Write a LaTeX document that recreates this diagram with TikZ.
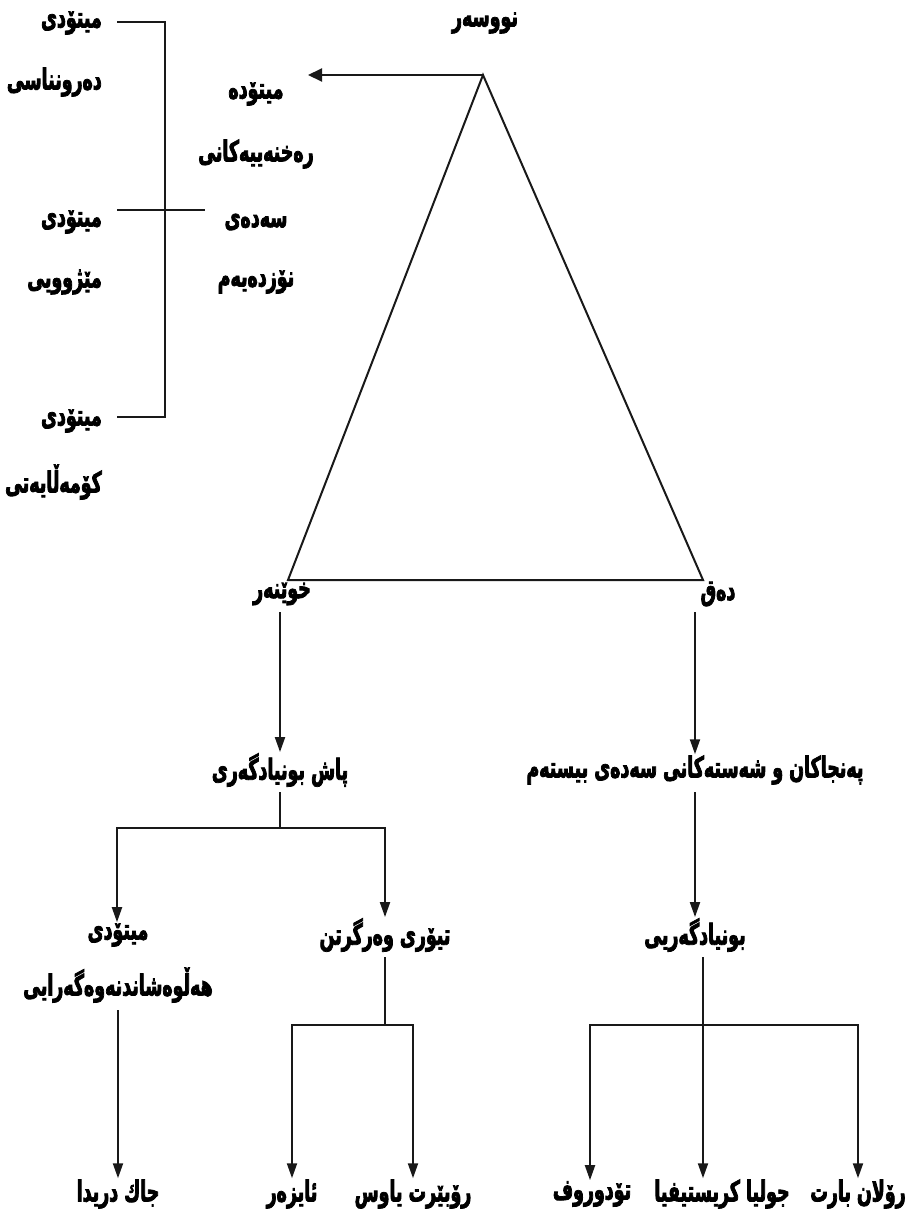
\documentclass[tikz,border=0pt]{standalone}
\usepackage{fontspec}
\usetikzlibrary{arrows.meta}
\TeXXeTstate=1
\newfontfamily\kurdfont[Script=Arabic, FakeStretch=0.6, FakeBold=2.6]{DejaVu Sans Bold}
\newcommand{\ku}[1]{\beginR #1\endR}
\begin{document}
\begin{tikzpicture}[x=1pt,y=-1pt,
  lbl/.style={font=\kurdfont\fontsize{29}{32}\selectfont, inner sep=1pt},
  conn/.style={line width=2pt, black!90},
  arr/.style={conn, -{Triangle[length=15pt,width=10pt]}},
  wide arr/.style={conn, -{Triangle[length=14pt,width=13pt]}}]
\useasboundingbox (0,0) rectangle (911,1221);

% apex label and the triangle
\node[lbl] (writer) at (485,23) {\ku{نووسەر}};
\coordinate (apex) at (483,75);
\coordinate (bl) at (288,580);
\coordinate (br) at (703,580);
\draw[conn, line join=miter] (apex) -- (bl) -- (br) -- cycle;

% nineteenth-century critical methods
\node[lbl] (m1) at (256,94)  {\ku{میتۆدە}};
\node[lbl] (m2) at (256,154) {\ku{رەخنەییەکانی}};
\node[lbl] (m3) at (256,222) {\ku{سەدەی}};
\node[lbl] (m4) at (256,282) {\ku{نۆزدەیەم}};
\coordinate (mtip) at (308,75);
\draw[wide arr] (apex) -- (mtip);

% the three methods on the left
\node[lbl, anchor=east] (l1) at (103,23)  {\ku{میتۆدی}};
\node[lbl, anchor=east] (l2) at (103,82)  {\ku{دەرونناسی}};
\node[lbl, anchor=east] (l3) at (103,222) {\ku{میتۆدی}};
\node[lbl, anchor=east] (l4) at (103,282) {\ku{مێژوویی}};
\node[lbl, anchor=east] (l5) at (103,421) {\ku{میتۆدی}};
\node[lbl, anchor=east] (l6) at (103,482) {\ku{کۆمەڵایەتی}};
\coordinate (b1) at (117,22);
\coordinate (v1) at (165,22);
\coordinate (v3) at (165,417);
\coordinate (b3) at (117,417);
\coordinate (b2) at (117,210);
\coordinate (e2) at (205,210);
\draw[conn] (b1) -- (v1) -- (v3) -- (b3);
\draw[conn] (b2) -- (e2);

% reader and text corners
\node[lbl] (reader) at (282,594) {\ku{خوێنەر}};
\node[lbl] (text)   at (718,594) {\ku{دەق}};

\node[lbl] (post)    at (280,770) {\ku{پاش بونیادگەری}};
\node[lbl] (sixties) at (695,770) {\ku{پەنجاکان و شەستەکانی سەدەی بیستەم}};
\coordinate (rs) at (280,612);
\coordinate (ts) at (695,612);
\draw[arr] (rs) -- (rs |- post.north);
\draw[arr] (ts) -- (ts |- sixties.north);

% post-structuralism branches
\node[lbl] (dec1) at (118,935) {\ku{میتۆدی}};
\node[lbl] (dec2) at (118,985) {\ku{هەڵوەشاندنەوەگەرایی}};
\node[lbl] (recep) at (385,935) {\ku{تیۆری وەرگرتن}};
\coordinate (ps) at (280,792);
\coordinate (pj) at (280,828);
\coordinate (pl) at (117,828);
\coordinate (pr) at (385,828);
\draw[conn] (ps) -- (pj);
\draw[arr] (pj) -- (pl) -- (pl |- dec1.north);
\draw[arr] (pj) -- (pr) -- (pr |- recep.north);

% structuralism
\node[lbl] (struct) at (695,935) {\ku{بونیادگەریی}};
\coordinate (ss) at (695,792);
\draw[arr] (ss) -- (ss |- struct.north);

% names at the foot
\node[lbl] (derrida)  at (118,1194) {\ku{جاك دریدا}};
\node[lbl] (iser)     at (292,1194) {\ku{ئایزەر}};
\node[lbl] (jauss)    at (413,1194) {\ku{رۆبێرت یاوس}};
\node[lbl] (todorov)  at (592,1194) {\ku{تۆدوروف}};
\node[lbl] (kristeva) at (722,1194) {\ku{جولیا کریستیفیا}};
\node[lbl] (barthes)  at (858,1194) {\ku{رۆلان بارت}};

\coordinate (ds) at (118,1010);
\draw[arr] (ds) -- (ds |- derrida.north);

\coordinate (rcs) at (385,957);
\coordinate (rcj) at (385,1025);
\coordinate (rcl) at (292,1025);
\coordinate (rcr) at (413,1025);
\draw[conn] (rcs) -- (rcj);
\draw[arr] (rcj) -- (rcl) -- (rcl |- iser.north);
\draw[arr] (rcj) -- (rcr) -- (rcr |- jauss.north);

\coordinate (sts) at (703,957);
\coordinate (stj) at (703,1025);
\coordinate (stl) at (590,1025);
\coordinate (str) at (858,1025);
\draw[arr] (sts) -- (sts |- kristeva.north);
\draw[arr] (stj) -- (stl) -- (stl |- todorov.north);
\draw[arr] (stj) -- (str) -- (str |- barthes.north);
\end{tikzpicture}
\end{document}
